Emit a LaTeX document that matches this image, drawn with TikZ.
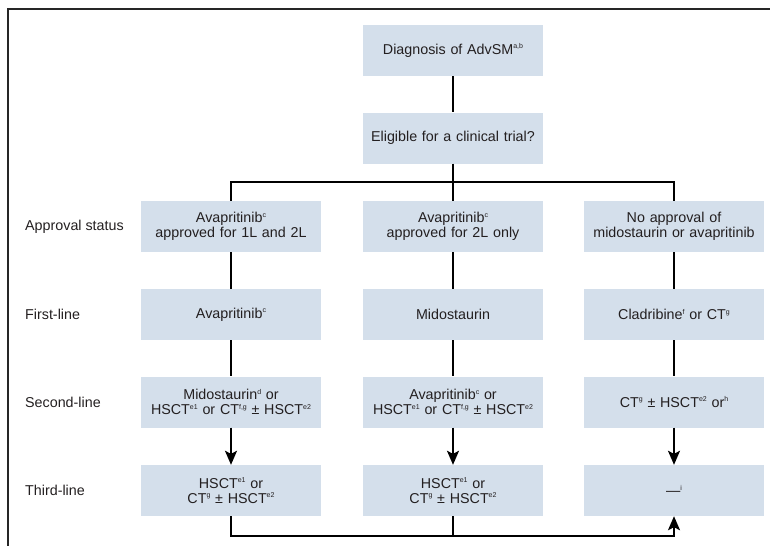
\documentclass[tikz,border=0pt]{standalone}
\usepackage{fontspec}
\setmainfont{Liberation Sans}
\usetikzlibrary{arrows.meta,calc}
\definecolor{boxfill}{RGB}{212,223,235}
\definecolor{txt}{RGB}{35,31,32}
\newcommand\spx[1]{\raisebox{5.5pt}{\fontsize{7}{7}\selectfont #1}}
\begin{document}
\begin{tikzpicture}[x=1pt,y=-1pt,
  box/.style={fill=boxfill,text=txt,text width=180pt,minimum height=51pt,inner sep=0pt,align=center,font=\fontsize{14.3}{15}\selectfont},
  rowlabel/.style={anchor=west,text=txt,inner sep=0pt,font=\fontsize{14.3}{15}\selectfont},
  conn/.style={line width=1.7pt,black},
  arr/.style={conn,-{Stealth[length=14pt,width=12pt,inset=3pt]}},
  frame/.style={line width=1.5pt,black!85}]
\useasboundingbox (0,0) rectangle (770,546);
\draw[frame] (770,9) -- (8,9) -- (8,546);

\node[box] (diag) at (453,50.5) {Diagnosis of AdvSM\spx{a,b}};
\node[box] (elig) at (453,138) {Eligible for a clinical trial?};

\node[box] (a1) at (231,226.5) {Avapritinib\spx{c}\\approved for 1L and 2L};
\node[box] (a2) at (453,226.5) {Avapritinib\spx{c}\\approved for 2L only};
\node[box] (a3) at (674,226.5) {No approval of\\midostaurin or avapritinib};

\node[box] (f1) at (231,314.5) {Avapritinib\spx{c}};
\node[box] (f2) at (453,314.5) {Midostaurin};
\node[box] (f3) at (674,314.5) {Cladribine\spx{f} or CT\spx{g}};

\node[box] (s1) at (231,402) {Midostaurin\spx{d} or\\HSCT\spx{e1} or CT\spx{f,g} ± HSCT\spx{e2}};
\node[box] (s2) at (453,402) {Avapritinib\spx{c} or\\HSCT\spx{e1} or CT\spx{f,g} ± HSCT\spx{e2}};
\node[box] (s3) at (674,402) {CT\spx{g} ± HSCT\spx{e2} or\spx{h}};

\node[box] (t1) at (231,490.5) {HSCT\spx{e1} or\\CT\spx{g} ± HSCT\spx{e2}};
\node[box] (t2) at (453,490.5) {HSCT\spx{e1} or\\CT\spx{g} ± HSCT\spx{e2}};
\node[box] (t3) at (674,490.5) {—\spx{i}};

\node[rowlabel] (l1) at (25,226.5) {Approval status};
\node[rowlabel] (l2) at (25,314.5) {First-line};
\node[rowlabel] (l3) at (25,402) {Second-line};
\node[rowlabel] (l4) at (25,490.5) {Third-line};

\coordinate (split) at (453,182);
\coordinate (jl) at (a1.north |- split);
\coordinate (jr) at (a3.north |- split);
\draw[conn] (diag) -- (elig);
\draw[conn] (elig) -- (a2);
\draw[conn] (a1.north) -- (jl) -- (jr) -- (a3.north);

\draw[conn] (a1) -- (f1);
\draw[conn] (a2) -- (f2);
\draw[conn] (a3) -- (f3);
\draw[conn] (f1) -- (s1);
\draw[conn] (f2) -- (s2);
\draw[conn] (f3) -- (s3);
\draw[arr] (s1) -- (t1);
\draw[arr] (s2) -- (t2);
\draw[arr] (s3) -- (t3);

\coordinate (bl) at ($(t1.south)+(0,20)$);
\draw[arr] (t1.south) -- (bl) -| (t3.south);
\draw[conn] (t2.south) -- (t2.south |- bl);
\end{tikzpicture}
\end{document}
